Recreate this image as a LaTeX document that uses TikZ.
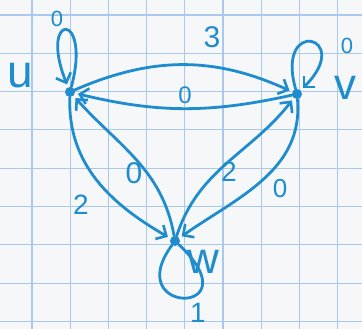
\documentclass[tikz,border=0pt]{standalone}
\usepackage{fontspec}
\setmainfont{Liberation Sans}
\usetikzlibrary{arrows.meta}
\definecolor{ink}{RGB}{30,140,205}
\definecolor{gridc}{RGB}{170,200,235}
\definecolor{paper}{RGB}{246,247,249}
\begin{document}
\begin{tikzpicture}[x=1pt,y=1pt,
  dot/.style={circle,fill=ink,inner sep=0pt,minimum size=10pt},
  edge/.style={draw=ink,line width=2.8pt,line cap=round,shorten >=3pt,
    -{Straight Barb[length=8pt,width=16pt,line width=2.6pt]}},
  loopline/.style={draw=ink,line width=2.8pt,line cap=round},
  lbl/.style={text=ink,inner sep=0pt,font=\fontsize{#1}{#1}\selectfont},
  lbl/.default=18]
\fill[paper] (0,0) rectangle (362,-329);
\useasboundingbox (0,0) rectangle (362,-329);
\foreach \i in {0,...,8} {
  \draw[gridc,line width=1.2pt] ({32+38.2*\i},0) -- ({32+38.2*\i},-329);
  \draw[gridc,line width=1.2pt] (0,{-15-38.3*\i}) -- (362,{-15-38.3*\i});
}
% vertices
\node[dot] (u) at (70,-92) {};
\node[dot] (v) at (297,-94) {};
\node[dot] (w) at (175,-241) {};
\node[lbl=46] (lu) at (20,-76) {u};
\node[lbl=44] (lv) at (345,-88) {v};
\node[lbl=44] (lw) at (203,-262) {w};
% edges between vertices
\draw[edge] (u) to[bend left=24] (v);
\draw[edge] (v) to[bend left=13] (u);
\draw[edge] (u) to[out=-92,in=150] (w);
\draw[edge] (w) to[out=100,in=-48] (u);
\draw[edge] (w) to[out=72,in=-128] (v);
\draw[edge] (v) to[out=-85,in=35] (w);
% loops
\draw[edge] (u) .. controls +(22,82) and +(-32,80) .. (u);
\draw[edge] (v) .. controls +(-22,78) and +(58,58) .. (v);
\draw[loopline] (w) .. controls +(-55,-75) and +(80,-75) .. (w);
% weights
\node[lbl=22] (a1) at (57,-19) {0};
\node[lbl=30] (a2) at (212,-37) {3};
\node[lbl=22] (a3) at (347,-46) {0};
\node[lbl=24] (a4) at (185,-95) {0};
\node[lbl=30] (a5) at (134,-173) {0};
\node[lbl=28] (a6) at (81,-205) {2};
\node[lbl=28] (a7) at (229,-172) {2};
\node[lbl=26] (a8) at (280,-189) {0};
\node[lbl=28] (a9) at (198,-313) {1};
\end{tikzpicture}
\end{document}
